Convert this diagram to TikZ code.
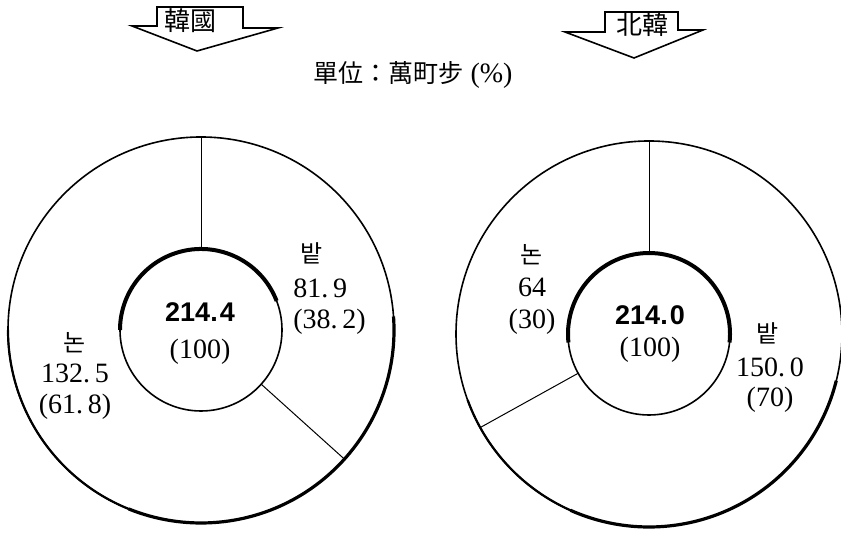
\documentclass[tikz,border=0pt]{standalone}
\usepackage{fontspec}
\setmainfont{Liberation Serif}
\newfontfamily\kor{Noto Sans CJK KR}
\newfontfamily\gothic{Liberation Sans}
\usepackage{tikz}

\begin{document}
\begin{tikzpicture}[x=0.5pt, y=0.5pt,
		num/.style={font=\fontsize{14}{16}\selectfont, inner sep=0pt},
		hang/.style={font=\kor\fontsize{12}{14}\selectfont, inner sep=0pt},
		total/.style={font=\gothic\bfseries\fontsize{13.5}{16}\selectfont, inner sep=0pt},
		tag/.style={font=\kor\fontsize{13}{15}\selectfont, inner sep=0pt},
		ring/.style={line width=0.8pt},
		divider/.style={line width=0.5pt}]
	\useasboundingbox (0,0) rectangle (841,534);
	\draw[ring, line join=miter] (132,508) -- (157,508) -- (157,527) -- (243,527) -- (243,506) -- (278,506) -- (197,483) -- cycle;
	\draw[line width=1.4pt] (243,527) -- (243,506);
	\node[tag] (korea) at (190,513) {韓國};
	\draw[ring, line join=miter] (565,502) -- (605,502) -- (605,522) -- (678,522) -- (678,504) -- (703,504) -- (634,476) -- cycle;
	\draw[line width=1.4pt] (678,522) -- (678,504);
	\node[tag] (northkorea) at (642,509) {北韓};
	\node[inner sep=0pt, font=\fontsize{14}{16}\selectfont] (unit) at (413,459) {{\kor\fontsize{12.5}{14}\selectfont 單位：萬町步} (\%)};
	\begin{scope}[shift={(201,204)}]
		\draw[ring] (0,0) circle (193);
		\draw[ring] (0,0) circle (81);
		\draw[line width=2pt] (21:81) arc (21:180:81);
		\draw[line width=1.6pt] (4:193) arc (4:-112:193);
		\draw[line width=1.1pt] (180:193) arc (180:248:193);
		\draw[divider] (90:81) -- (90:193);
		\draw[divider] (-42:81) -- (-42:193);
	\end{scope}
	\begin{scope}[shift={(649,200)}]
		\draw[ring] (0,0) circle (193);
		\draw[ring] (0,0) circle (81);
		\draw[line width=2pt] (-6:81) arc (-6:186:81);
		\draw[line width=1.6pt] (-14:193) arc (-14:-114:193);
		\draw[line width=1.1pt] (200:193) arc (200:246:193);
		\draw[divider] (90:81) -- (90:193);
		\draw[divider] (209:81) -- (209:193);
	\end{scope}
	\node[hang] (leftfield) at (312,281) {밭};
	\node[num, anchor=west] (leftfieldarea) at (293,246) {81.\,9};
	\node[num, anchor=west] (leftfieldpct) at (293,212) {(38.\,2)};
	\node[total] (lefttotal) at (200,222) {214.\kern1pt 4};
	\node[num] (lefttotalpct) at (200,182) {(100)};
	\node[hang] (leftpaddy) at (75,191) {논};
	\node[num] (leftpaddyarea) at (75,161) {132.\,5};
	\node[num] (leftpaddypct) at (75,127) {(61.\,8)};
	\node[hang] (rightpaddy) at (532,279) {논};
	\node[num] (rightpaddyarea) at (532,247) {64};
	\node[num] (rightpaddypct) at (532,212) {(30)};
	\node[total] (righttotal) at (650,219) {214.\kern1pt 0};
	\node[num] (righttotalpct) at (650,184) {(100)};
	\node[hang] (rightfield) at (768,201) {밭};
	\node[num] (rightfieldarea) at (770,167) {150.\,0};
	\node[num] (rightfieldpct) at (770,134) {(70)};
\end{tikzpicture}
\end{document}
